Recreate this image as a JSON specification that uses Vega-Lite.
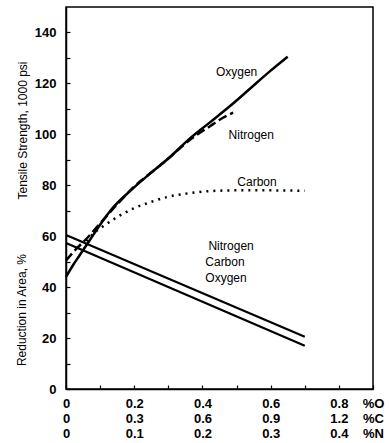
{
  "$schema": "https://vega.github.io/schema/vega-lite/v6.json",
  "width": 307,
  "height": 382,
  "autosize": "none",
  "padding": {"left": 66, "top": 7, "right": 16, "bottom": 54},
  "background": "white",
  "config": {
    "font": "Liberation Sans",
    "view": {"stroke": "black", "strokeWidth": 1.5},
    "axis": {"domainColor": "black", "domainWidth": 1.5, "tickColor": "black", "labelColor": "black", "titleColor": "black", "labelFont": "Liberation Sans", "titleFont": "Liberation Sans", "grid": false}
  },
  "datasets": {
    "curves": [
      {"series": "O_TS", "x": 0, "y": 44},
      {"series": "O_TS", "x": 0.02, "y": 48.5},
      {"series": "O_TS", "x": 0.04, "y": 52.5},
      {"series": "O_TS", "x": 0.07, "y": 58.5},
      {"series": "O_TS", "x": 0.1, "y": 64.5},
      {"series": "O_TS", "x": 0.13, "y": 70},
      {"series": "O_TS", "x": 0.19, "y": 78},
      {"series": "O_TS", "x": 0.25, "y": 85},
      {"series": "O_TS", "x": 0.3, "y": 90.5},
      {"series": "O_TS", "x": 0.36, "y": 98},
      {"series": "O_TS", "x": 0.42, "y": 104.5},
      {"series": "O_TS", "x": 0.48, "y": 111},
      {"series": "O_TS", "x": 0.54, "y": 118},
      {"series": "O_TS", "x": 0.6, "y": 125},
      {"series": "O_TS", "x": 0.65, "y": 130.5},
      {"series": "N_TS", "x": 0, "y": 50.5},
      {"series": "N_TS", "x": 0.03, "y": 55},
      {"series": "N_TS", "x": 0.06, "y": 59},
      {"series": "N_TS", "x": 0.1, "y": 65},
      {"series": "N_TS", "x": 0.15, "y": 72.5},
      {"series": "N_TS", "x": 0.2, "y": 79.5},
      {"series": "N_TS", "x": 0.25, "y": 85},
      {"series": "N_TS", "x": 0.3, "y": 90.5},
      {"series": "N_TS", "x": 0.36, "y": 97.5},
      {"series": "N_TS", "x": 0.42, "y": 103},
      {"series": "N_TS", "x": 0.46, "y": 106.5},
      {"series": "N_TS", "x": 0.49, "y": 108.5},
      {"series": "C_TS", "x": 0.06, "y": 58},
      {"series": "C_TS", "x": 0.08, "y": 61},
      {"series": "C_TS", "x": 0.11, "y": 64},
      {"series": "C_TS", "x": 0.15, "y": 67.5},
      {"series": "C_TS", "x": 0.2, "y": 71},
      {"series": "C_TS", "x": 0.25, "y": 73.5},
      {"series": "C_TS", "x": 0.3, "y": 75.5},
      {"series": "C_TS", "x": 0.35, "y": 76.7},
      {"series": "C_TS", "x": 0.4, "y": 77.5},
      {"series": "C_TS", "x": 0.5, "y": 78},
      {"series": "C_TS", "x": 0.6, "y": 78},
      {"series": "C_TS", "x": 0.7, "y": 77.8},
      {"series": "RA_top", "x": 0, "y": 60.5},
      {"series": "RA_top", "x": 0.7, "y": 20.5},
      {"series": "RA_bot", "x": 0, "y": 57.3},
      {"series": "RA_bot", "x": 0.7, "y": 17}
    ],
    "labels": [
      {"text": "Oxygen", "x": 0.5, "y": 124.5},
      {"text": "Nitrogen", "x": 0.543, "y": 99.7},
      {"text": "Carbon", "x": 0.56, "y": 81.3},
      {"text": "Nitrogen", "x": 0.484, "y": 56.1},
      {"text": "Carbon", "x": 0.466, "y": 49.9},
      {"text": "Oxygen", "x": 0.469, "y": 43.6}
    ],
    "ytitle": [
      {"text": "Reduction in Area, %", "x": -0.129, "y": 31}
    ]
  },
  "layer": [
    {
      "data": {"name": "curves"},
      "transform": [{"filter": "datum.series === 'O_TS'"}],
      "mark": {"type": "line", "color": "black", "strokeWidth": 2.5, "interpolate": "monotone"},
      "encoding": {
        "x": {"field": "x", "type": "quantitative",
          "scale": {"domain": [0, 0.9], "nice": false, "zero": false},
          "axis": {
            "title": null,
            "values": [0, 0.1, 0.2, 0.3, 0.4, 0.5, 0.6, 0.7, 0.8, 0.9],
            "tickCount": 50,
            "tickSize": -4, "tickWidth": 1.2,
            "labelPadding": 12, "labelFontSize": 13, "labelFontWeight": "bold", "labelLineHeight": 15,
            "labelFlush": false, "labelOverlap": false, "labelBaseline": "top", "labelBound": false,
            "labelExpr": "datum.value < 0.05 ? ['0','0','0'] : (abs(datum.value-0.2)<0.01 ? ['0.2','0.3','0.1'] : (abs(datum.value-0.4)<0.01 ? ['0.4','0.6','0.2'] : (abs(datum.value-0.6)<0.01 ? ['0.6','0.9','0.3'] : (abs(datum.value-0.8)<0.01 ? ['0.8','1.2','0.4'] : (abs(datum.value-0.9)<0.01 ? ['%O','%C','%N'] : '')))))"
          }
        },
        "y": {"field": "y", "type": "quantitative",
          "scale": {"domain": [0, 150], "nice": false},
          "axis": {
            "title": "Tensile Strength, 1000 psi",
            "titleFontSize": 12, "titleFontWeight": "normal",
            "titleX": -44, "titleY": 123, "titleAngle": 270,
            "titleAlign": "center", "titleBaseline": "middle",
            "values": [0, 10, 20, 30, 40, 50, 60, 70, 80, 90, 100, 110, 120, 130, 140],
            "tickCount": 50,
            "tickSize": -4, "tickWidth": 1.2,
            "labelPadding": 14, "labelFontSize": 13, "labelFontWeight": "bold",
            "labelExpr": "datum.value % 20 === 0 ? datum.label : ''"
          }
        }
      }
    },
    {
      "data": {"name": "curves"},
      "transform": [{"filter": "datum.series === 'N_TS'"}],
      "mark": {"type": "line", "color": "black", "strokeWidth": 2.5, "strokeDash": [9, 4], "interpolate": "monotone"},
      "encoding": {"x": {"field": "x", "type": "quantitative"}, "y": {"field": "y", "type": "quantitative"}}
    },
    {
      "data": {"name": "curves"},
      "transform": [{"filter": "datum.series === 'C_TS'"}],
      "mark": {"type": "line", "color": "black", "strokeWidth": 2.5, "strokeDash": [2, 5], "interpolate": "monotone"},
      "encoding": {"x": {"field": "x", "type": "quantitative"}, "y": {"field": "y", "type": "quantitative"}}
    },
    {
      "data": {"name": "curves"},
      "transform": [{"filter": "datum.series === 'RA_top' || datum.series === 'RA_bot'"}],
      "mark": {"type": "line", "color": "black", "strokeWidth": 2.2},
      "encoding": {"x": {"field": "x", "type": "quantitative"}, "y": {"field": "y", "type": "quantitative"}, "detail": {"field": "series"}}
    },
    {
      "data": {"name": "labels"},
      "mark": {"type": "text", "fontSize": 12, "color": "black", "align": "center", "baseline": "middle"},
      "encoding": {"x": {"field": "x", "type": "quantitative"}, "y": {"field": "y", "type": "quantitative"}, "text": {"field": "text"}}
    },
    {
      "data": {"name": "ytitle"},
      "mark": {"type": "text", "fontSize": 12, "color": "black", "align": "center", "baseline": "middle", "angle": 270},
      "encoding": {"x": {"field": "x", "type": "quantitative"}, "y": {"field": "y", "type": "quantitative"}, "text": {"field": "text"}}
    }
  ]
}
